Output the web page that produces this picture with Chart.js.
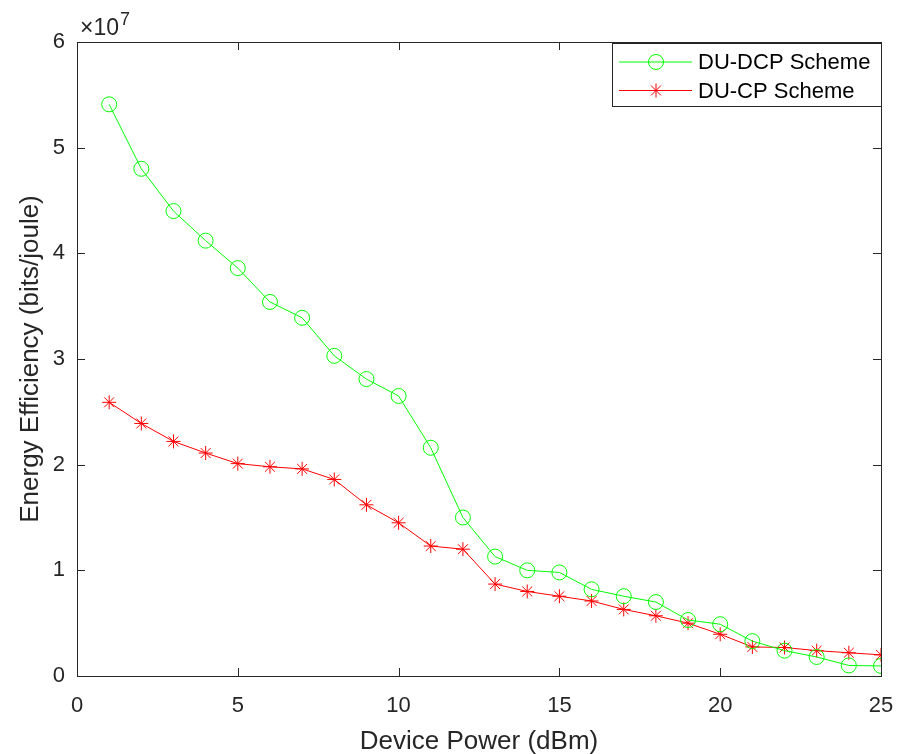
<!DOCTYPE html>
<html>
<head>
<meta charset="utf-8">
<script src="https://cdn.jsdelivr.net/npm/chart.js@4.4.1/dist/chart.umd.min.js"></script>
<style>
  body { margin: 0; background: #fff; }
  canvas { display: block; }
</style>
</head>
<body>
<canvas id="eeChart" width="898" height="754"></canvas>
<script>
// Datos (eficiencia en unidades de 1e7 bits/joule)
const devicePower = [1, 2, 3, 4, 5, 6, 7, 8, 9, 10, 11, 12, 13, 14, 15, 16, 17, 18, 19, 20, 21, 22, 23, 24, 25];
const dcpScheme = [5.41, 4.80, 4.40, 4.12, 3.86, 3.54, 3.39, 3.03, 2.81, 2.65, 2.16, 1.50, 1.13, 1.00, 0.98,
                   0.82, 0.755, 0.70, 0.53, 0.49, 0.33, 0.24, 0.18, 0.10, 0.095];
const cpScheme = [2.59, 2.39, 2.22, 2.11, 2.01, 1.98, 1.96, 1.86, 1.62, 1.45, 1.23, 1.20, 0.87, 0.80, 0.755,
                  0.71, 0.63, 0.57, 0.50, 0.395, 0.275, 0.27, 0.24, 0.22, 0.20];
const xTicks = [0, 5, 10, 15, 20, 25];
const yTicks = [0, 1, 2, 3, 4, 5, 6];
const seriesNames = ['DU-DCP Scheme', 'DU-CP Scheme'];

const FONT = '"Liberation Sans", Arial, Helvetica, sans-serif';
const AXIS_COLOR = '#262626';

function toPoints(ys) {
    return devicePower.map((x, i) => ({ x: x, y: ys[i] }));
}

function drawMarker(ctx, style, x, y, color) {
    ctx.save();
    ctx.strokeStyle = color;
    ctx.lineWidth = 1;
    ctx.beginPath();
    if (style === 'circle') {
        ctx.arc(x, y, 7.5, 0, Math.PI * 2);
    } else {
        const r = 7;
        const d = r * Math.SQRT1_2;
        ctx.moveTo(x - r, y); ctx.lineTo(x + r, y);
        ctx.moveTo(x, y - r); ctx.lineTo(x, y + r);
        ctx.moveTo(x - d, y - d); ctx.lineTo(x + d, y + d);
        ctx.moveTo(x - d, y + d); ctx.lineTo(x + d, y - d);
    }
    ctx.stroke();
    ctx.restore();
}

// Marco, ticks hacia dentro, factor x10^7 y leyenda
const matlabFrame = {
    id: 'matlabFrame',
    afterDraw(chart) {
        const { ctx, chartArea: a, scales } = chart;
        ctx.save();
        ctx.strokeStyle = AXIS_COLOR;
        ctx.lineWidth = 1;
        ctx.strokeRect(a.left + 0.5, a.top + 0.5, a.right - a.left, a.bottom - a.top);
        const len = 8;
        ctx.beginPath();
        xTicks.forEach(v => {
            const px = Math.round(scales.x.getPixelForValue(v)) + 0.5;
            ctx.moveTo(px, a.bottom); ctx.lineTo(px, a.bottom - len);
            ctx.moveTo(px, a.top); ctx.lineTo(px, a.top + len);
        });
        yTicks.forEach(v => {
            const py = Math.round(scales.y.getPixelForValue(v)) + 0.5;
            ctx.moveTo(a.left, py); ctx.lineTo(a.left + len, py);
            ctx.moveTo(a.right, py); ctx.lineTo(a.right - len, py);
        });
        ctx.stroke();

        // x10^7
        ctx.fillStyle = AXIS_COLOR;
        ctx.textBaseline = 'alphabetic';
        ctx.textAlign = 'left';
        ctx.font = '23px ' + FONT;
        ctx.fillText('\u00d710', a.left + 3, a.top - 7);
        const w = ctx.measureText('\u00d710').width;
        ctx.font = '18px ' + FONT;
        ctx.fillText('7', a.left + 4 + w, a.top - 17);

        // Leyenda
        const lx = 612, ly = 43, lw = 269, lh = 63;
        ctx.fillStyle = '#fff';
        ctx.fillRect(lx, ly, lw, lh);
        ctx.strokeStyle = AXIS_COLOR;
        ctx.strokeRect(lx + 0.5, ly + 0.5, lw, lh);
        chart.data.datasets.forEach((ds, i) => {
            const cy = 62 + i * 28.5;
            ctx.strokeStyle = ds.borderColor;
            ctx.beginPath();
            ctx.moveTo(619, cy); ctx.lineTo(692, cy);
            ctx.stroke();
            drawMarker(ctx, ds.pointStyle === 'circle' ? 'circle' : 'star', 656, cy, ds.borderColor);
            ctx.fillStyle = '#000';
            ctx.font = '22px ' + FONT;
            ctx.textBaseline = 'middle';
            ctx.fillText(ds.label, 698, cy + 1);
        });
        ctx.restore();
    }
};

new Chart(document.getElementById('eeChart'), {
    type: 'line',
    data: {
        datasets: [{
            label: seriesNames[0],
            data: toPoints(dcpScheme),
            borderColor: '#00ff00',
            backgroundColor: 'rgba(0,0,0,0)',
            borderWidth: 1,
            pointStyle: 'circle',
            pointRadius: 7.5,
            pointBorderWidth: 1,
            pointBackgroundColor: 'rgba(0,0,0,0)',
            tension: 0
        }, {
            label: seriesNames[1],
            data: toPoints(cpScheme),
            borderColor: '#ff0000',
            backgroundColor: 'rgba(0,0,0,0)',
            borderWidth: 1,
            pointStyle: 'star',
            pointRadius: 7,
            pointBorderWidth: 1,
            tension: 0
        }]
    },
    options: {
        responsive: false,
        animation: false,
        layout: { padding: { top: 42, right: 17, left: 0, bottom: 0 } },
        plugins: {
            legend: { display: false },
            tooltip: { enabled: false }
        },
        scales: {
            x: {
                type: 'linear',
                min: 0,
                max: 25,
                afterBuildTicks: s => { s.ticks = xTicks.map(v => ({ value: v })); },
                afterFit: s => { s.height = 78; s.paddingLeft = 0; s.paddingRight = 0; },
                grid: { display: false, drawTicks: false },
                border: { display: false },
                ticks: { color: AXIS_COLOR, font: { family: FONT, size: 22 }, padding: 17, maxRotation: 0 },
                title: {
                    display: true,
                    text: 'Device Power (dBm)',
                    color: AXIS_COLOR,
                    font: { family: FONT, size: 26 },
                    padding: { top: 0, bottom: -3 }
                }
            },
            y: {
                type: 'linear',
                min: 0,
                max: 6,
                afterBuildTicks: s => { s.ticks = yTicks.map(v => ({ value: v })); },
                afterFit: s => { s.width = 77; s.paddingTop = 0; s.paddingBottom = 0; },
                grid: { display: false, drawTicks: false },
                border: { display: false },
                ticks: { color: AXIS_COLOR, font: { family: FONT, size: 22 }, padding: 12 },
                title: {
                    display: true,
                    text: 'Energy Efficiency (bits/joule)',
                    color: AXIS_COLOR,
                    font: { family: FONT, size: 26 },
                    padding: { top: 15, bottom: 0 }
                }
            }
        }
    },
    plugins: [matlabFrame]
});
</script>
</body>
</html>
